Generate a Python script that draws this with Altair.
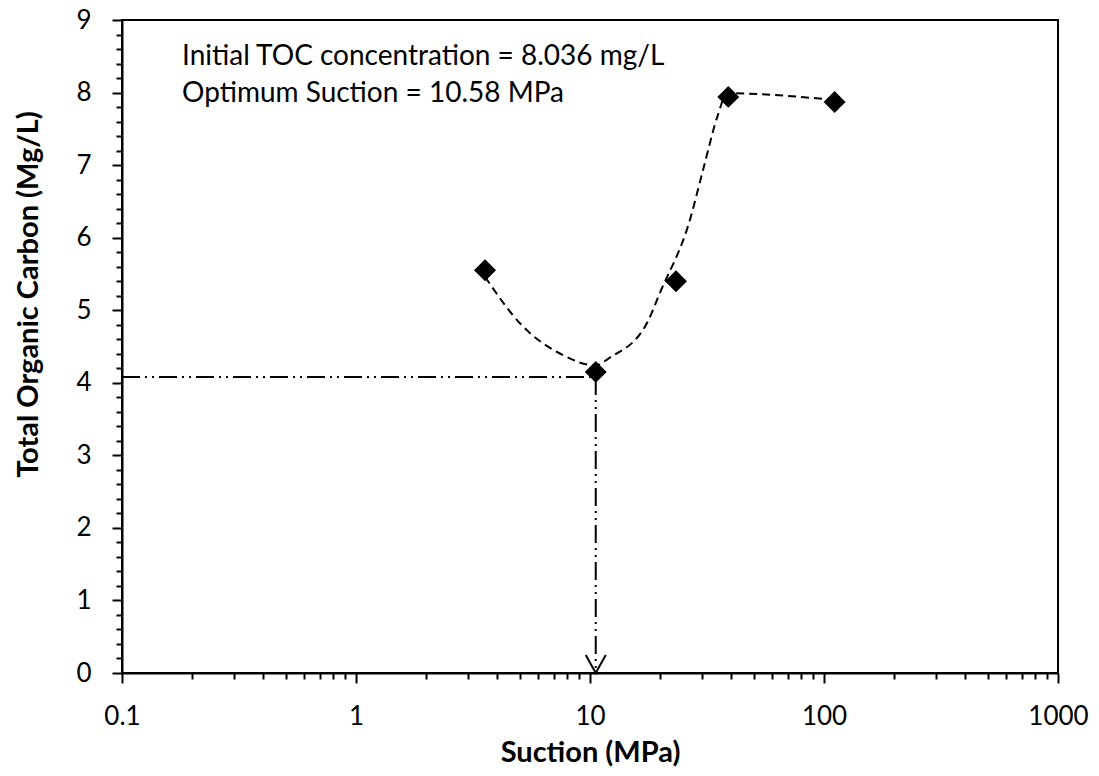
import altair as alt
import pandas as pd

# measured points
suction = [3.56, 10.58, 23.3, 39.0, 111.0]
toc = [5.55, 4.15, 5.40, 7.94, 7.87]

# fitted (dashed) curve vertices
curve_x = [3.56, 5.02, 7.67, 10.5, 12.2, 17.5, 19.9, 26.7, 30.4, 35.2, 38.5, 109.0]
curve_y = [5.46, 4.82, 4.38, 4.24, 4.35, 4.82, 5.24, 6.24, 6.93, 7.69, 7.99, 7.90]

# optimum guide lines
opt_x = 10.58
opt_y = 4.08
x_min = 0.1

annotations = ["Initial TOC concentration = 8.036 mg/L", "Optimum Suction = 10.58 MPa"]

x_ticks = [round(m * 10 ** e, 6) for e in range(-1, 3) for m in range(1, 10)] + [1000]
y_ticks = [round(i * 0.2, 6) for i in range(0, 46)]

FONT = "Lato"

pts = pd.DataFrame({"x": suction, "y": toc})
crv = pd.DataFrame({"x": curve_x, "y": curve_y, "o": list(range(len(curve_x)))})
hline = pd.DataFrame({"x": [x_min], "x2": [opt_x], "y": [opt_y]})
vline = pd.DataFrame({"x": [opt_x], "y": [opt_y], "y2": [0]})
arrow = pd.DataFrame({"x": [opt_x], "y": [0]})

major_x = "abs(log(datum.value)/LN10 - round(log(datum.value)/LN10)) < 0.001"
major_y = "abs(datum.value - round(datum.value)) < 0.001"

xscale = alt.Scale(type="log", domain=[0.1, 1000], nice=False)
yscale = alt.Scale(domain=[0, 9], nice=False, zero=False)

xaxis = alt.Axis(
    values=x_ticks, tickCount=1000,
    labelExpr=f"{major_x} ? format(datum.value, '~g') : ''",
    tickSize={"condition": {"test": major_x, "value": 10}, "value": 6},
    tickWidth=2, tickColor="black", domainColor="black", domainWidth=2,
    labelFont=FONT, labelFontSize=26, labelColor="black", labelPadding=20,
    labelFlush=False, labelOverlap=False,
    title="Suction (MPa)", titleFont=FONT, titleFontSize=29, titleFontWeight="bold",
    titleColor="black", titleBaseline="middle", titleAlign="center",
    titleX=468, titleY=79, grid=False,
)
yaxis = alt.Axis(
    values=y_ticks, tickCount=1000,
    labelExpr=f"{major_y} ? format(datum.value, 'd') : ''",
    tickSize={"condition": {"test": major_y, "value": 10}, "value": 6},
    tickWidth=2, tickColor="black", domainColor="black", domainWidth=2,
    labelFont=FONT, labelFontSize=26, labelColor="black", labelPadding=21,
    labelFlush=False, labelOverlap=False,
    title="Total Organic Carbon (Mg/L)", titleFont=FONT, titleFontSize=29,
    titleFontWeight="bold", titleColor="black", titleBaseline="middle",
    titleAlign="center", titleAngle=270, titleX=-94, titleY=274, grid=False,
)

base_x = alt.X("x:Q", scale=xscale, axis=xaxis)
base_y = alt.Y("y:Q", scale=yscale, axis=yaxis)

curve = alt.Chart(crv).mark_line(
    color="black", strokeWidth=2, strokeDash=[8, 5], interpolate="monotone"
).encode(x=base_x, y=base_y, order="o:O")

markers = alt.Chart(pts).mark_point(
    shape="diamond", filled=True, color="black", size=480, opacity=1
).encode(x="x:Q", y="y:Q")

dashdot = [18, 5, 2, 5, 2, 5]
h = alt.Chart(hline).mark_rule(color="black", strokeWidth=2, strokeDash=dashdot).encode(
    x="x:Q", x2="x2:Q", y="y:Q")
v = alt.Chart(vline).mark_rule(color="black", strokeWidth=2, strokeDash=dashdot).encode(
    x="x:Q", y="y:Q", y2="y2:Q")
arr = alt.Chart(arrow).mark_point(
    shape="M-1,-1.8L0,0L1,-1.8", filled=False, color="black", strokeWidth=2, size=400, opacity=1
).encode(x="x:Q", y="y:Q")

t1 = alt.Chart(pd.DataFrame({"t": [annotations[0]]})).mark_text(
    align="left", baseline="alphabetic", font=FONT, fontSize=28, color="black"
).encode(x=alt.value(60), y=alt.value(45), text="t:N")
t2 = alt.Chart(pd.DataFrame({"t": [annotations[1]]})).mark_text(
    align="left", baseline="alphabetic", font=FONT, fontSize=28, color="black"
).encode(x=alt.value(60), y=alt.value(82), text="t:N")

chart = alt.layer(curve, h, v, arr, markers, t1, t2).properties(
    width=936, height=653,
    autosize=alt.AutoSizeParams(type="none"),
    padding={"left": 122, "top": 20, "right": 41, "bottom": 103},
    background="white",
).configure_view(stroke="black", strokeWidth=2)

chart.save("out.html", embed_options={"renderer": "svg", "actions": False})
